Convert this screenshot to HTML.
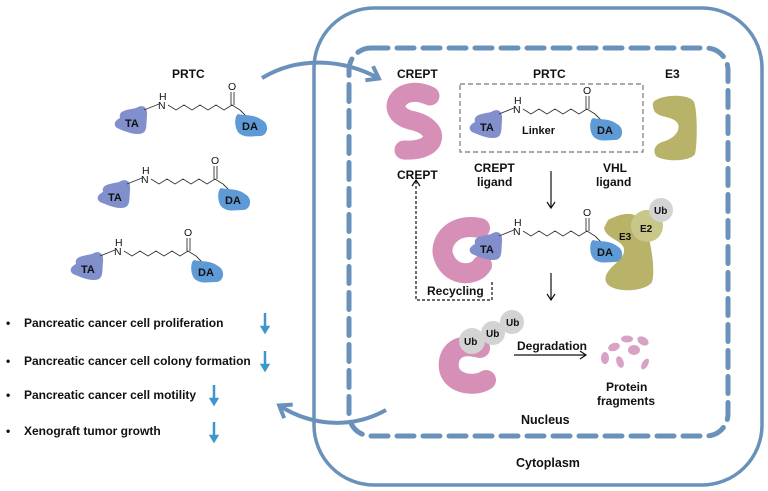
<!DOCTYPE html>
<html><head><meta charset="utf-8"><style>
html,body{margin:0;padding:0;background:#fff}
svg{display:block}
text{font-family:"Liberation Sans",sans-serif;font-weight:bold;fill:#111}
</style></head><body>
<svg width="768" height="491" viewBox="0 0 768 491" xmlns="http://www.w3.org/2000/svg">
<defs>
<g id="mol">
  <path d="M-12,-4 C-14,-12 -4,-12 4,-14 C10,-18 16,-16 15,-6 C14,4 16,12 6,12 C-2,12 -10,8 -15,6 C-20,2 -16,-2 -12,-4Z" fill="#8190cd"/>
  <text x="-7" y="5" font-size="11">TA</text>
  <line x1="12" y1="-12" x2="27" y2="-18" stroke="#333" stroke-width="0.9"/>
  <text x="27" y="-22" font-size="10.5" style="font-weight:normal">H</text>
  <text x="26" y="-13" font-size="10.5" style="font-weight:normal">N</text>
  <polyline points="36,-17 44,-12 52,-17 60,-12 68,-17 76,-12 84,-17 92,-12 100,-17 108,-12" fill="none" stroke="#333" stroke-width="0.9"/>
  <line x1="99" y1="-17" x2="99" y2="-30" stroke="#333" stroke-width="0.9"/>
  <line x1="102" y1="-17" x2="102" y2="-30" stroke="#333" stroke-width="0.9"/>
  <text x="96" y="-32" font-size="10.5" style="font-weight:normal">O</text>
  <line x1="108" y1="-12" x2="114" y2="-6" stroke="#333" stroke-width="0.9"/>
  <path d="M106,-8 C114,-6 122,-8 130,-2 C138,2 136,14 128,14 C120,14 114,16 108,12 C102,8 102,-6 106,-8Z" fill="#5e9ad6"/>
  <text x="110" y="8" font-size="11">DA</text>
</g>
<marker id="ah" markerWidth="10" markerHeight="10" refX="7" refY="5" orient="auto" markerUnits="userSpaceOnUse"><path d="M1,1 L7,5 L1,9" fill="none" stroke="#111" stroke-width="1.2"/></marker>
<marker id="bh" markerWidth="20" markerHeight="20" refX="12" refY="10" orient="auto" markerUnits="userSpaceOnUse"><path d="M2,2 L13,10 L2,18" fill="none" stroke="#6a91ba" stroke-width="4"/></marker>
</defs>

<rect x="314" y="8" width="448" height="477" rx="60" fill="none" stroke="#6a91ba" stroke-width="3.5"/>
<rect x="349" y="48" width="379" height="388" rx="22" fill="none" stroke="#6a91ba" stroke-width="5" stroke-dasharray="17,9" stroke-linecap="round"/>

<path d="M262,78 C300,55 345,60 378,78" fill="none" stroke="#6a91ba" stroke-width="4" marker-end="url(#bh)"/>
<path d="M386,410 C350,430 310,425 280,406" fill="none" stroke="#6a91ba" stroke-width="4" marker-end="url(#bh)"/>

<text x="172" y="78" font-size="12">PRTC</text>
<use href="#mol" x="132" y="122"/>
<use href="#mol" x="115" y="196"/>
<use href="#mol" x="88" y="268"/>

<g font-size="12">
<text x="6" y="327">•</text><text x="24" y="327">Pancreatic cancer cell proliferation</text>
<text x="6" y="365">•</text><text x="24" y="365">Pancreatic cancer cell colony formation</text>
<text x="6" y="399">•</text><text x="24" y="399">Pancreatic cancer cell motility</text>
<text x="6" y="435">•</text><text x="24" y="435">Xenograft tumor growth</text>
</g>
<g stroke="#3d97cf" stroke-width="2.5" fill="#3d97cf">
<line x1="265" y1="313" x2="265" y2="328"/><path d="M262,327 L268,327 L265,332Z"/>
<line x1="265" y1="351" x2="265" y2="366"/><path d="M262,365 L268,365 L265,370Z"/>
<line x1="214" y1="385" x2="214" y2="400"/><path d="M211,399 L217,399 L214,404Z"/>
<line x1="214" y1="422" x2="214" y2="437"/><path d="M211,436 L217,436 L214,441Z"/>
</g>

<text x="397" y="78" font-size="12">CREPT</text>
<text x="533" y="78" font-size="12">PRTC</text>
<text x="665" y="78" font-size="12">E3</text>
<path d="M430,96 C400,82 382,112 410,120 C442,126 440,152 404,150" fill="none" stroke="#d68fb6" stroke-width="19" stroke-linecap="round"/>
<rect x="460" y="84" width="183" height="68" fill="none" stroke="#777" stroke-width="1.2" stroke-dasharray="5,3"/>
<use href="#mol" x="487" y="126"/>
<text x="522" y="134" font-size="11">Linker</text>
<path d="M656,100 C666,94 690,94 694,102 C698,112 697,148 695,154 C690,162 664,162 656,156 C652,150 656,144 662,142 C676,138 680,130 678,124 C674,116 660,118 655,112 C652,106 652,102 656,100Z" fill="#b8b368"/>

<text x="397" y="179" font-size="12">CREPT</text>
<text x="474" y="172" font-size="12">CREPT</text>
<text x="477" y="186" font-size="12">ligand</text>
<text x="603" y="172" font-size="12">VHL</text>
<text x="596" y="186" font-size="12">ligand</text>
<line x1="551" y1="171" x2="551" y2="208" stroke="#111" stroke-width="1.2" marker-end="url(#ah)"/>

<path d="M480,228 C450,222 438,245 444,258 C452,278 476,276 482,265" fill="none" stroke="#d68fb6" stroke-width="20" stroke-linecap="round"/>
<path d="M608,220 C620,214 632,210 642,220 C650,232 656,270 652,282 C646,292 612,294 606,282 C602,270 622,262 624,252 C626,240 606,240 604,228Z" fill="#b8b368"/>
<circle cx="647" cy="226" r="16" fill="#c9c68a"/>
<circle cx="661" cy="210" r="12" fill="#d3d3d3"/>
<text x="654" y="214" font-size="10">Ub</text>
<text x="640" y="232" font-size="10">E2</text>
<text x="619" y="240" font-size="10">E3</text>
<use href="#mol" x="487" y="248"/>
<polyline points="492,282 492,300 416,300 416,180" fill="none" stroke="#111" stroke-width="1.2" stroke-dasharray="3,2" marker-end="url(#ah)"/>
<text x="427" y="295" font-size="12">Recycling</text>
<line x1="551" y1="273" x2="551" y2="300" stroke="#111" stroke-width="1.2" marker-end="url(#ah)"/>

<path d="M480,348 C450,340 446,362 450,372 C456,386 478,386 486,380" fill="none" stroke="#d68fb6" stroke-width="20" stroke-linecap="round"/>
<circle cx="512" cy="322" r="12" fill="#d3d3d3"/>
<circle cx="493" cy="333" r="12" fill="#d3d3d3"/>
<circle cx="472" cy="341" r="13" fill="#d3d3d3"/>
<text x="506" y="326" font-size="10">Ub</text>
<text x="486" y="337" font-size="10">Ub</text>
<text x="464" y="345" font-size="10">Ub</text>
<text x="517" y="350" font-size="12">Degradation</text>
<line x1="514" y1="355" x2="586" y2="355" stroke="#111" stroke-width="1.2" marker-end="url(#ah)"/>
<g fill="#d9a1c4">
<ellipse cx="614" cy="347" rx="6" ry="4" transform="rotate(-20 614 347)"/>
<ellipse cx="605" cy="358" rx="4" ry="6"/>
<ellipse cx="634" cy="350" rx="6" ry="5"/>
<ellipse cx="627" cy="339" rx="6" ry="3.5"/>
<ellipse cx="643" cy="341" rx="6" ry="4" transform="rotate(30 643 341)"/>
<ellipse cx="620" cy="362" rx="3.5" ry="6" transform="rotate(-20 620 362)"/>
<ellipse cx="645" cy="364" rx="3" ry="6" transform="rotate(30 645 364)"/>
</g>
<text x="606" y="391" font-size="12">Protein</text>
<text x="597" y="405" font-size="12">fragments</text>
<text x="521" y="424" font-size="12.5">Nucleus</text>
<text x="516" y="467" font-size="12.5">Cytoplasm</text>
</svg>
</body></html>
